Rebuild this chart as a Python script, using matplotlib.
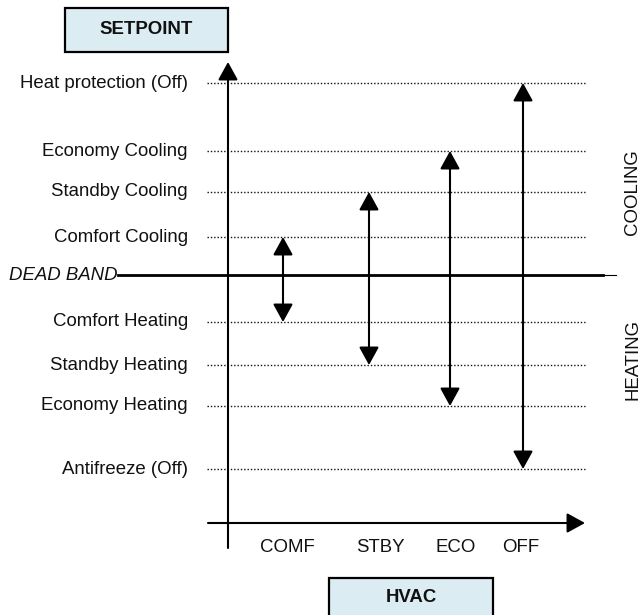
import matplotlib.pyplot as plt
import matplotlib.patches as patches

# setpoint levels (vertical position on the diagram, pixel scale, top = 0)
levels = ["Heat protection (Off)", "Economy Cooling", "Standby Cooling", "Comfort Cooling",
          "Comfort Heating", "Standby Heating", "Economy Heating", "Antifreeze (Off)"]
level_y = [83, 151, 192, 237, 322, 365, 406, 469]
dead_band_y = 275

# HVAC modes and the band each one spans
modes = ["COMF", "STBY", "ECO", "OFF"]
mode_x = [283, 369, 450, 523]
mode_label_x = [287, 380, 456, 521]
mode_top = [237, 192, 151, 83]
mode_bottom = [322, 365, 406, 469]

FONT = "Liberation Sans"
FS = 13.4

fig = plt.figure(figsize=(6.41, 6.15), dpi=100)
ax = fig.add_axes([0, 0, 1, 1])
ax.set_xlim(0, 641)
ax.set_ylim(615, 0)
ax.axis('off')

# dotted setpoint lines + labels
for name, y in zip(levels, level_y):
    ax.plot([207, 585], [y, y], color='#111111', lw=1.0, ls=(0, (1, 1.4)), zorder=1)
    ax.text(188, y, name, ha='right', va='center', fontsize=FS, family=FONT, color='#111111')

# dead band
ax.plot([118, 603], [dead_band_y, dead_band_y], color='black', lw=2.0, zorder=2)
ax.plot([603, 616], [dead_band_y, dead_band_y], color='black', lw=0.8, zorder=2)
ax.text(9, dead_band_y, "DEAD BAND", ha='left', va='center', fontsize=FS, family=FONT,
        style='italic', color='#111111')

# axes arrows
head = "-|>,head_length=1.0,head_width=0.55"
ax.add_patch(patches.FancyArrowPatch((228, 548), (228, 62), arrowstyle=head,
                                     mutation_scale=11, color='black', lw=1.5,
                                     shrinkA=0, shrinkB=0, zorder=3))
ax.add_patch(patches.FancyArrowPatch((208, 523), (585, 523), arrowstyle=head,
                                     mutation_scale=11, color='black', lw=1.5,
                                     shrinkA=0, shrinkB=0, zorder=3))

# mode arrows
for x, top, bot in zip(mode_x, mode_top, mode_bottom):
    ax.add_patch(patches.FancyArrowPatch((x, bot), (x, top),
                                         arrowstyle="<|-|>,head_length=1.0,head_width=0.55",
                                         mutation_scale=11, color='black', lw=1.5,
                                         shrinkA=0, shrinkB=0, zorder=3))

for name, x in zip(modes, mode_label_x):
    ax.text(x, 548, name, ha='center', va='center', fontsize=FS, family=FONT, color='#111111')

# side labels
ax.text(633, 192, "COOLING", rotation=90, ha='center', va='center', fontsize=FS,
        family=FONT, color='#111111')
ax.text(633, 360, "HEATING", rotation=90, ha='center', va='center', fontsize=FS,
        family=FONT, color='#111111')

# title boxes
box_fc = '#dbedf3'
ax.add_patch(patches.Rectangle((65, 8), 163, 44, fc=box_fc, ec='black', lw=1.6, zorder=2))
ax.text(146.5, 29, "SETPOINT", ha='center', va='center', fontsize=FS, family=FONT,
        fontweight='bold', color='#111111', zorder=4)
ax.add_patch(patches.Rectangle((329, 578), 164, 50, fc=box_fc, ec='black', lw=1.6,
                               zorder=2, clip_on=True))
ax.text(411, 598, "HVAC", ha='center', va='center', fontsize=FS, family=FONT,
        fontweight='bold', color='#111111', zorder=4)

plt.savefig("out.png", dpi=100)
